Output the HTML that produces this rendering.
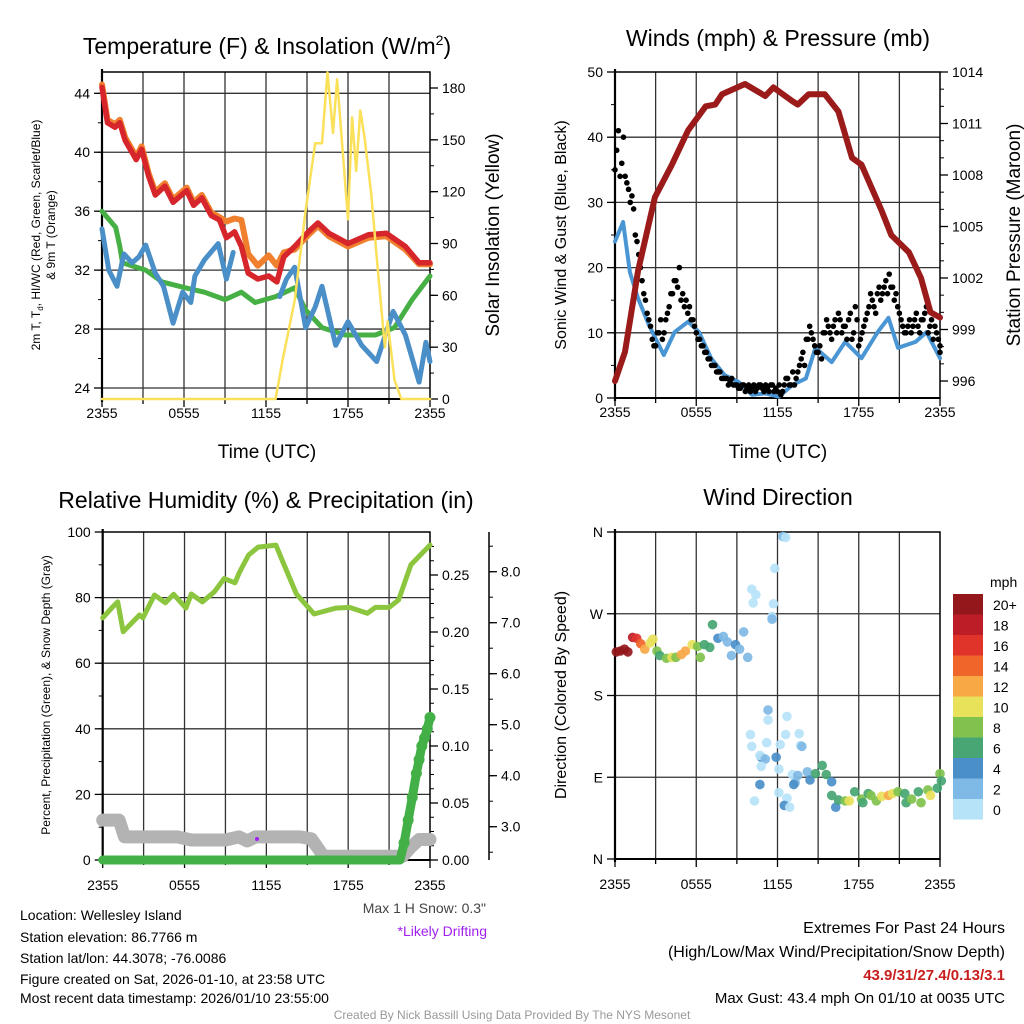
<!DOCTYPE html>
<html><head><meta charset="utf-8"><style>
html,body{margin:0;padding:0;background:#fff;}
svg{display:block;font-family:"Liberation Sans",sans-serif;}
</style></head><body>
<svg id="fig" width="1024" height="1024" viewBox="0 0 1024 1024" xmlns="http://www.w3.org/2000/svg">
<rect width="1024" height="1024" fill="#fff"/>
<text x="267" y="54" font-size="23" text-anchor="middle">Temperature (F) &amp; Insolation (W/m<tspan font-size="14" dy="-9">2</tspan><tspan dy="9">)</tspan></text>
<text x="778" y="46" font-size="23" text-anchor="middle">Winds (mph) &amp; Pressure (mb)</text>
<text x="266" y="508" font-size="23" text-anchor="middle">Relative Humidity (%) &amp; Precipitation (in)</text>
<text x="778" y="505" font-size="23" text-anchor="middle">Wind Direction</text>
<text x="267" y="458" font-size="19" text-anchor="middle">Time (UTC)</text>
<text x="778" y="458" font-size="19" text-anchor="middle">Time (UTC)</text>
<text transform="translate(40,235) rotate(-90)" font-size="12" text-anchor="middle">2m T, T<tspan font-size="8" dy="3">d</tspan><tspan dy="-3">, HI/WC (Red, Green, Scarlet/Blue)</tspan></text>
<text transform="translate(55,235) rotate(-90)" font-size="12" text-anchor="middle">&amp; 9m T (Orange)</text>
<text transform="translate(499,235) rotate(-90)" font-size="19" text-anchor="middle">Solar Insolation (Yellow)</text>
<text transform="translate(566,235) rotate(-90)" font-size="16" text-anchor="middle">Sonic Wind &amp; Gust (Blue, Black)</text>
<text transform="translate(1020,235) rotate(-90)" font-size="19" text-anchor="middle">Station Pressure (Maroon)</text>
<text transform="translate(50,695) rotate(-90)" font-size="12" text-anchor="middle">Percent, Precipitation (Green), &amp; Snow Depth (Gray)</text>
<text transform="translate(566,695) rotate(-90)" font-size="16" text-anchor="middle">Direction (Colored By Speed)</text>
<g font-size="14">
<text x="20" y="920">Location: Wellesley Island</text>
<text x="20" y="942">Station elevation: 86.7766 m</text>
<text x="20" y="963">Station lat/lon: 44.3078; -76.0086</text>
<text x="20" y="984">Figure created on Sat, 2026-01-10, at 23:58 UTC</text>
<text x="20" y="1003">Most recent data timestamp: 2026/01/10 23:55:00</text>
</g>
<text x="486" y="913" font-size="14" text-anchor="end" fill="#444">Max 1 H Snow: 0.3"</text>
<text x="487" y="936" font-size="14" text-anchor="end" fill="#a020f0">*Likely Drifting</text>
<g font-size="16" text-anchor="end">
<text x="1005" y="933">Extremes For Past 24 Hours</text>
<text x="1005" y="957">(High/Low/Max Wind/Precipitation/Snow Depth)</text>
<text x="1005" y="980" font-weight="bold" fill="#c81e1e" font-size="15">43.9/31/27.4/0.13/3.1</text>
<text x="1005" y="1003" font-size="15">Max Gust: 43.4 mph On 01/10 at 0035 UTC</text>
</g>
<text x="512" y="1019" font-size="12" text-anchor="middle" fill="#999">Created By Nick Bassill Using Data Provided By The NYS Mesonet</text>
</svg>
<script>
// ---- Panel 1 data ----
const tempHours = [0,0.4,0.95,1.3,1.7,2.5,2.9,3.4,3.9,4.6,5.2,6.2,6.7,7.3,8.0,8.6,9.1,9.7,10.2,10.7,11.4,12.2,12.8,13.3,14.1,15.1,15.8,16.6,18.0,19.5,20.8,22.2,23.2,24];
const temp2m = [44.4,42.0,41.7,42.0,40.8,39.5,40.2,38.4,37.1,37.7,36.6,37.4,36.4,36.9,35.7,35.4,34.2,34.6,33.6,31.8,31.4,31.6,31.2,32.9,33.6,34.6,35.2,34.5,33.8,34.4,34.5,33.6,32.5,32.5];
const temp9m = [44.6,42.2,41.9,42.2,41.0,39.7,40.4,38.6,37.3,37.9,36.8,37.6,36.6,37.1,35.9,35.6,35.3,35.5,35.4,33.1,32.3,33.0,32.3,33.2,33.4,34.4,35.0,34.3,33.6,34.2,34.3,33.4,32.4,32.4];
const dewHoursA = [0,0.5,1.1,1.6,2.2,2.7,3.2,3.9,4.5,5.2,5.9,6.5,6.8,7.5,8.5,9.1,9.6];
const dewA = [34.8,32.0,30.9,33.1,32.5,32.9,33.7,31.8,30.9,28.4,30.5,29.8,31.6,32.7,33.8,31.4,33.2];
const dewHoursB = [13.0,13.5,14.1,14.9,15.6,16.1,17.1,18.0,19.0,20.1,21.3,22.2,23.2,23.7,24];
const dewB = [30.2,31.4,32.2,28.1,29.5,30.9,26.9,28.5,26.9,25.8,29.2,27.6,24.4,27.1,25.8];
const hiwcHours = [0,1.0,1.3,1.5,3.2,4.4,6.1,7.5,9.0,10.2,11.2,12.7,14.1,14.9,16.1,17.8,20.0,21.4,22.7,24];
const hiwc = [36.0,34.9,33.6,32.5,32.0,31.2,30.8,30.5,30.0,30.5,29.8,30.2,30.8,29.3,28.1,27.6,27.6,28.1,30.0,31.6];
const solarHours = [0,12.7,13.2,14.1,14.9,15.6,16.1,16.5,16.9,17.2,18.0,18.3,18.6,18.9,19.2,19.7,20.2,20.7,20.9,21.4,21.9,24];
const solar = [0,0,22,57,109,148,148,189,154,185,104,163,132,167,152,119,73,30,45,11,0,0];
const tempTicks = [24,28,32,36,40,44];
const solarTicks = [0,30,60,90,120,150,180];
const timeTickLabels = ["2355","0555","1155","1755","2355"];
// ---- Panel 2 data ----
const presHours = [0,0.74,1.7,2.95,4.2,5.4,6.7,7.4,7.9,9.6,11.1,11.7,13.1,13.5,14.3,15.5,16.5,17.5,18.2,19.7,20.4,21.7,22.6,23.3,24];
const pressure = [996.0,997.7,1002.4,1006.7,1008.6,1010.6,1012.0,1012.1,1012.7,1013.3,1012.6,1013.1,1012.3,1012.1,1012.7,1012.7,1011.7,1009.0,1008.6,1005.9,1004.5,1003.5,1002.0,1000.0,999.7];
const windHours = [0,0.6,1.1,1.7,2.5,3.6,4.4,5.4,6.2,7.1,8.1,9.1,10.1,11.1,12.1,13.1,14.1,14.8,16.0,17.0,18.2,19.4,20.2,20.9,22.2,23.0,24];
const wind = [24,27,19.3,15.3,11.2,6.6,10.1,11.7,10.1,6.1,3.5,2.5,0.5,0.7,0.2,2,3,7.7,5.5,8.6,6.1,10.1,12.3,7.7,8.6,10.1,6.1];
const gust = [35,41,36,34,32,31,25,22,18, 15,12,9,8,10,9,12,14, 16,18,20,16,15,14,12,10, 9,8,7,6,5,4,4,3, 3,2.5,2,2,1.5,2,1.5,1, 2,1.5,2,1,1.5,2,1,1, 0.5,2,3,2,2,4,6,5, 9,10,8,7,6,10,11,9, 12,13,10,11,12,9,14,8, 10,12,14,15,13,17,16,18, 19,17,16,13,11,10,12,11, 13,10,12,14,11,9,10,8];
const gust2 = [38,34,40,33,30,29,24,20,16, 13,11,8,10,12,10,13,16, 18,17,15,14,13,12,11,9, 8,7,6,5,5,4,3,3, 2,3,2,1.5,2,1,2,1.5, 1,2,1.5,2,1,2,1.5,2, 1,3,2,4,3,5,7,9, 11,9,7,8,10,12,10,11, 10,12,11,9,13,10,12,9, 11,13,16,14,16,15,17,16, 17,15,14,12,10,11,10,12, 11,12,13,10,12,11,9,7];
const windTicks = [0,10,20,30,40,50];
const presTicks = [996,999,1002,1005,1008,1011,1014];
// ---- Panel 3 data ----
const rhHours = [0,0.7,1.1,1.5,2.7,2.95,3.8,4.6,5.2,6.1,6.5,7.3,8.2,8.9,9.7,10.0,10.7,11.4,12.7,13.2,14.2,15.5,17.1,18.1,19.4,20.0,21.0,21.7,22.6,24];
const rh = [73.8,77,78.7,69.6,74.7,73.8,80.8,78.4,81,76.8,81.1,78.7,81.8,85.8,84.5,87.5,93,95.4,96,91,81.1,75,76.8,77,75.2,77,77,79.3,90,96];
const precipHours = [0,21.8,22.1,22.4,22.7,23.0,23.2,23.4,23.6,23.8,24];
const precip = [0,0,0.015,0.035,0.055,0.076,0.088,0.10,0.107,0.115,0.125];
const snowHours = [0,1.2,1.6,5.5,6.5,9.0,10.0,10.6,11.2,14.5,15.3,16.2,22.0,22.6,23.2,24];
const snow = [3.13,3.13,2.8,2.8,2.74,2.74,2.8,2.72,2.8,2.8,2.76,2.42,2.42,2.6,2.75,2.75];
const rhTicks = [0,20,40,60,80,100];
const precipTicks = [0,0.05,0.10,0.15,0.20,0.25];
const snowTicks = [3,4,5,6,7,8];
// ---- Panel 4 data ----
const dirHours = [0.1,0.4,0.7,0.95,1.3,1.6,1.9,2.2,2.6,2.8,3.1,3.3,3.8,4.2,4.5,4.9,5.2,5.7,6.1,6.3,6.6,7.0,7.2,7.6,8.0,8.3,8.6,8.9,9.2,9.5,9.8,
 10.1,10.4,10.2,11.7,11.6,11.6,11.8,12.4,12.6,
 11.3,11.3,12.7,10.0,12.6,13.6,10.1,11.2,12.2,13.7,13.8,10.8,11.9,10.7,11.1,10.8,12.1,13.1,13.5,13.3,10.7,13.2,12.1,12.7,10.3,12.5,12.9,
 14.2,14.4,14.8,15.3,15.6,16.0,16.0,16.3,16.5,17.0,17.3,17.7,18.2,18.3,18.7,18.9,19.3,19.7,20.2,20.5,20.9,21.4,21.5,21.9,22.4,22.6,23.1,23.3,23.8,24.0,24.1];
const dirDeg = [228,229,231,228,244,243,237,231,238,242,229,224,221,222,222,225,229,236,234,222,236,233,258,243,245,239,224,236,231,250,222,
 297,291,282,281,267,264,320,355,354,
 164,153,157,137,137,138,124,128,126,125,124,112,112,114,110,102,99,93,92,84,82,82,73,67,64,59,57,
 96,87,94,103,93,85,70,57,65,64,64,74,66,62,72,70,64,69,70,72,74,72,62,66,74,62,76,70,78,94,86];
const dirSpeed = [20,20,20,20,19,17,15,13,11,10,8,7,8,10,9,12,13,10,9,8,7,6,6,4,3,3,2,4,3,2,2,
 0,0,0,1,1,3,1,3,0,
 3,1,0,0,1,1,0,0,0,1,3,4,4,1,3,1,0,1,3,2,4,4,0,1,1,4,1,
 3,4,6,7,6,5,6,4,7,8,10,7,8,7,6,8,9,10,13,10,9,7,6,8,6,8,9,10,6,8,6];
const dirTicks = [0,90,180,270,360];
const dirTickLabels = ["N","E","S","W","N"];
const speedBins = ["20+","18","16","14","12","10","8","6","4","2","0"];
const speedColors = ["#93171b","#bc1d27","#e0342b","#f06529","#f9a846","#e8e15a","#80c24d","#47a673","#4a8fc8","#7fb9e5","#b7e3f8"];

const NS = "http://www.w3.org/2000/svg";
const svg = document.getElementById("fig");
function el(tag, attrs, parent) {
  const e = document.createElementNS(NS, tag);
  for (const k in attrs) e.setAttribute(k, attrs[k]);
  (parent || svg).appendChild(e);
  return e;
}
function lin(d0, d1, r0, r1) { return v => r0 + (v - d0) * (r1 - r0) / (d1 - d0); }
function pts(hs, vs, sx, sy) { return hs.map((h, i) => sx(h).toFixed(1) + "," + sy(vs[i]).toFixed(1)).join(" "); }

function frame(name, L, R, T, B, xs, hGridVals, ys, labOff) {
  const g = el("g", {});
  
  
  for (let h = 3; h < 24; h += 3) {
    const ln = el("line", {x1: xs(h), x2: xs(h), y1: T, y2: B, stroke: "#333", "stroke-width": 1.3}, g);
    
    
  }
  hGridVals.forEach(v => {
    const ln = el("line", {x1: L, x2: R, y1: ys(v), y2: ys(v), stroke: "#333", "stroke-width": 1.3}, g);
    
    
  });
  const box = el("rect", {x: L, y: T, width: R - L, height: B - T, fill: "none", stroke: "#000", "stroke-width": 1.5}, g);
  
  
  const ax = el("line", {x1: L, x2: L, y1: T - 3, y2: B + 3, stroke: "#000", "stroke-width": 2.2}, g);
  
  
  const bx = el("line", {x1: L, x2: R, y1: B, y2: B, stroke: "#000", "stroke-width": 2}, g);
  
  
  for (let h = 0; h <= 24; h += 3) {
    const t = el("line", {x1: xs(h), x2: xs(h), y1: B, y2: B + (h % 6 === 0 ? 8 : 5), stroke: "#000", "stroke-width": 1.3}, g);
    
    
  }
  timeTickLabels.forEach((s, i) => {
    const t = el("text", {x: xs(i * 6), y: B + labOff, "font-size": 14, "text-anchor": "middle"}, g);
    t.textContent = s;
    
    
  });
}
function yAxis(name, ticks, labels, sy, x, side, minorStep, lo, hi, fmt) {
  const g = el("g", {});
  
  
  const dir = side === "left" ? -1 : 1;
  if (minorStep) for (let v = lo; v <= hi + 1e-9; v += minorStep) {
    const m = el("line", {x1: x, x2: x + dir * 4, y1: sy(v), y2: sy(v), stroke: "#000", "stroke-width": 1}, g);
    
    
  }
  ticks.forEach((v, i) => {
    const t = el("line", {x1: x, x2: x + dir * 8, y1: sy(v), y2: sy(v), stroke: "#000", "stroke-width": 1.3}, g);
    
    
    const lb = el("text", {x: x + dir * 12, y: sy(v) + 5, "font-size": 14, "text-anchor": side === "left" ? "end" : "start"}, g);
    lb.textContent = labels ? labels[i] : (fmt ? fmt(v) : v);
    
    
  });
}
function line(name, hs, vs, sx, sy, color, w) {
  const p = el("polyline", {points: pts(hs, vs, sx, sy), fill: "none", stroke: color, "stroke-width": w, "stroke-linejoin": "round", "stroke-linecap": "round"});
  
  
  return p;
}

// ===== Panel 1 =====
const x1 = lin(0, 24, 102, 430), yT = lin(24, 44, 388, 93.3), yS = lin(0, 180, 399, 88);
frame("temperature", 102, 430, 72, 399, x1, tempTicks, yT, 19);
yAxis("temperature-y-axis", tempTicks, null, yT, 102, "left", 2, 24, 44);
yAxis("insolation-y-axis", solarTicks, null, yS, 430, "right", 15, 0, 180);
line("hiwc-line", hiwcHours, hiwc, x1, yT, "#46b044", 5);
line("dewpoint-line-a", dewHoursA, dewA, x1, yT, "#4a8fc8", 5);
line("dewpoint-line-b", dewHoursB, dewB, x1, yT, "#4a8fc8", 5);
line("temp-9m-line", tempHours, temp9m, x1, yT, "#f07f2e", 6);
line("temp-2m-line", tempHours, temp2m, x1, yT, "#d7262b", 5.5);
line("insolation-line", solarHours, solar, x1, yS, "#fbe05a", 2.5);

// ===== Panel 2 =====
const x2 = lin(0, 24, 615, 940), yW = lin(0, 50, 398, 72), yP = lin(996, 1014, 381, 72);
frame("winds", 615, 940, 72, 398, x2, [10, 20, 30, 40], yW, 19);
yAxis("wind-y-axis", windTicks, null, yW, 615, "left", 5, 0, 50);
yAxis("pressure-y-axis", presTicks, null, yP, 940, "right", 1, 996, 1014);
line("wind-line", windHours, wind, x2, yW, "#4a95d3", 4);
const gg = el("g", {});


gust.forEach((v, i) => {
  const c = el("circle", {cx: x2(i * 0.25), cy: yW(v), r: 2.8, fill: "#000"}, gg);
  
  
});
gust2.forEach((v, i) => {
  const h = Math.min(24, i * 0.25 + 0.125);
  const c = el("circle", {cx: x2(h), cy: yW(v), r: 2.8, fill: "#000"}, gg);
  
  
});
line("pressure-line", presHours, pressure, x2, yP, "#9b1b1b", 6);

// ===== Panel 3 =====
const x3 = lin(0, 24, 102.7, 430), yRH = lin(0, 100, 860, 532), yPr = lin(0, 0.25, 860, 575), ySn = lin(3, 8, 826.7, 571.7);
frame("humidity", 102.7, 430, 532, 860, x3, [20, 40, 60, 80], yRH, 30);
yAxis("humidity-y-axis", rhTicks, null, yRH, 102.7, "left", 10, 0, 100);
yAxis("precip-y-axis", precipTicks, null, yPr, 430, "right", 0.0125, 0, 0.275, v => v.toFixed(2));
const outer = el("line", {x1: 489, x2: 489, y1: 532, y2: 860, stroke: "#000", "stroke-width": 1.5});


yAxis("snow-y-axis", snowTicks, null, ySn, 489, "right", 0.5, 2.5, 8.5, v => v.toFixed(1));
line("snow-depth-line", snowHours, snow, x3, ySn, "#b3b3b3", 13);
line("precip-line", precipHours, precip, x3, yPr, "#43b047", 9);
precipHours.forEach((h, i) => {
  if (i < 2) return;
  const c = el("circle", {cx: x3(h), cy: yPr(precip[i]), r: 5.5, fill: "#43b047"});
  
  
});
line("rh-line", rhHours, rh, x3, yRH, "#8cc63f", 5);
const pd = el("circle", {cx: 257, cy: 839, r: 2, fill: "#a020f0"});



// ===== Panel 4 =====
const x4 = lin(0, 24, 615, 940), yD = lin(0, 360, 859, 532);
frame("direction", 615, 940, 532, 859, x4, [90, 180, 270], yD, 30);
yAxis("direction-y-axis", dirTicks, dirTickLabels, yD, 615, "left", 0, 0, 0);
const dg = el("g", {});


function spColor(s) { const idx = Math.min(10, Math.floor(s / 2)); return speedColors[10 - idx]; }
dirHours.forEach((h, i) => {
  const c = el("circle", {cx: x4(h), cy: yD(dirDeg[i]), r: 4.8, fill: spColor(dirSpeed[i]), "fill-opacity": 0.92}, dg);
  
  
});
const cb = el("g", {});


const ut = el("text", {x: 990, y: 587, "font-size": 14}, cb);
ut.textContent = "mph";


speedBins.forEach((s, i) => {
  const r = el("rect", {x: 953, y: 594 + i * 20.5, width: 30, height: 20.6, fill: speedColors[i]}, cb);
  
  
  const t = el("text", {x: 993, y: 594 + i * 20.5 + 16, "font-size": 14}, cb);
  t.textContent = s;
  
  
});
</script>
</body></html>
